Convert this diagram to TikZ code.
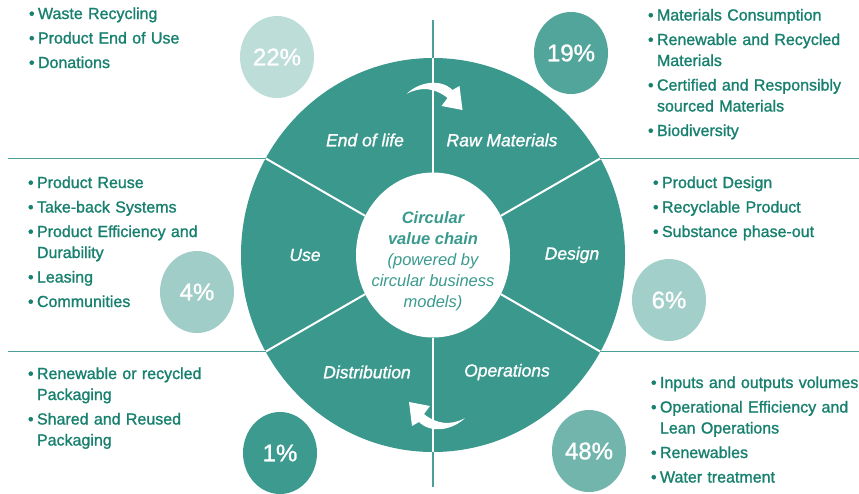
\documentclass[tikz,border=0pt]{standalone}
\usepackage{fontspec}
\setmainfont{Liberation Sans}
\newfontfamily\heavy[FakeBold=1.2]{Liberation Sans}
\usetikzlibrary{shapes.geometric}
\definecolor{ring}{HTML}{3A988D}
\definecolor{txt}{HTML}{17806F}
\definecolor{hl}{HTML}{4AA096}
\definecolor{ctr}{HTML}{3A9A8E}
\definecolor{c22}{HTML}{BDDDD9}
\definecolor{c19}{HTML}{52A59B}
\definecolor{c4}{HTML}{A0CDC8}
\definecolor{c6}{HTML}{A3CFCA}
\definecolor{c1}{HTML}{3D9A8F}
\definecolor{c48}{HTML}{72B5AD}
\newcommand\bitem[1]{\hangindent=9pt\hangafter=1\noindent\makebox[9pt][l]{\textbullet}#1\par}
\newcommand\blkstart{\heavy\fontsize{16}{21}\selectfont\setlength\parskip{3.5pt}}
\newcommand\arrowpath{(-28,-3) .. controls (-16,-15) and (6,-19) .. (18,-7) -- (25,-11) -- (28,13) -- (7,9) -- (13,1) .. controls (1,-9) and (-14,-11) .. (-28,-3) -- cycle}
\begin{document}
\begin{tikzpicture}[x=1pt,y=-1pt,
  hline/.style={draw=hl, line width=1.5pt},
  divider/.style={draw=white, line width=2pt},
  disc/.style={ellipse, inner sep=0pt, outer sep=0pt},
  pct/.style={ellipse, inner sep=0pt, outer sep=0pt, text=white, minimum width=74pt, minimum height=82pt, font=\heavy\fontsize{24}{24}\selectfont},
  seg/.style={text=white, inner sep=0pt, font=\heavy\fontsize{17.5}{20}\selectfont\itshape},
  blk/.style={text=txt, inner sep=0pt, outer sep=0pt, text width=260pt, align=left, anchor=base west, font=\heavy\fontsize{16}{21}\selectfont}]
\useasboundingbox (0,0) rectangle (859,493);
\fill[white] (0,0) rectangle (859,493);
\coordinate (c) at (433,255);
\coordinate (L) at (8,0);
\coordinate (R) at (859,0);
\coordinate (T) at (0,20);
\coordinate (B) at (0,487);
% ring
\node[disc, fill=ring, minimum width=384pt, minimum height=394pt] (outer) at (c) {};
\node[disc, fill=white, minimum width=154pt, minimum height=165pt] (inner) at (c) {};
\foreach \a in {30,90,150,210,270,330} \draw[divider] (inner.\a) -- (outer.\a);
% guide lines
\draw[hline] (outer.150) -- (outer.150 -| L);
\draw[hline] (outer.210) -- (outer.210 -| L);
\draw[hline] (outer.30) -- (outer.30 -| R);
\draw[hline] (outer.330) -- (outer.330 -| R);
\draw[hline] (outer.90) -- (outer.90 |- T);
\draw[hline] (outer.270) -- (outer.270 |- B);
% arrows
\fill[white, shift={(434.5,97)}] \arrowpath;
\fill[white, shift={(437,415)}, rotate=180] \arrowpath;
% segment labels
\node[seg] (eol) at (365,140) {End of life};
\node[seg] (raw) at (502,140) {Raw Materials};
\node[seg] (use) at (305,255) {Use};
\node[seg] (des) at (572,255) {Design};
\node[seg] (dis) at (367,372) {Distribution};
\node[seg] (ope) at (507,372) {Operations};
% centre
\node[align=center, text=ctr, inner sep=0pt, font=\fontsize{16.5}{21}\selectfont\itshape] (ctext) at (433,261)
  {\textbf{Circular}\\\textbf{value chain}\\(powered by\\circular business\\models)};
% percentages
\node[pct, fill=c22] (p22) at (277,57) {22\%};
\node[pct, fill=c19] (p19) at (571,53) {19\%};
\node[pct, fill=c4] (p4) at (197,292) {4\%};
\node[pct, fill=c6] (p6) at (669,300) {6\%};
\node[pct, fill=c1] (p1) at (280,453) {1\%};
\node[pct, fill=c48] (p48) at (589,451) {48\%};
% bullet blocks
\node[blk] (tl) at (29,19) {\blkstart\bitem{Waste Recycling}\bitem{Product End of Use}\bitem{Donations}};
\node[blk] (tr) at (648,20.5) {\blkstart\bitem{Materials Consumption}\bitem{Renewable and Recycled\newline Materials}\bitem{Certified and Responsibly\newline sourced Materials}\bitem{Biodiversity}};
\node[blk] (ml) at (28,188) {\blkstart\bitem{Product Reuse}\bitem{Take-back Systems}\bitem{Product Efficiency and\newline Durability}\bitem{Leasing}\bitem{Communities}};
\node[blk] (mr) at (653,188) {\blkstart\bitem{Product Design}\bitem{Recyclable Product}\bitem{Substance phase-out}};
\node[blk] (bl) at (28,379) {\blkstart\bitem{Renewable or recycled\newline Packaging}\bitem{Shared and Reused\newline Packaging}};
\node[blk] (br) at (651,388) {\blkstart\bitem{Inputs and outputs volumes}\bitem{Operational Efficiency and\newline Lean Operations}\bitem{Renewables}\bitem{Water treatment}};
\end{tikzpicture}
\end{document}
